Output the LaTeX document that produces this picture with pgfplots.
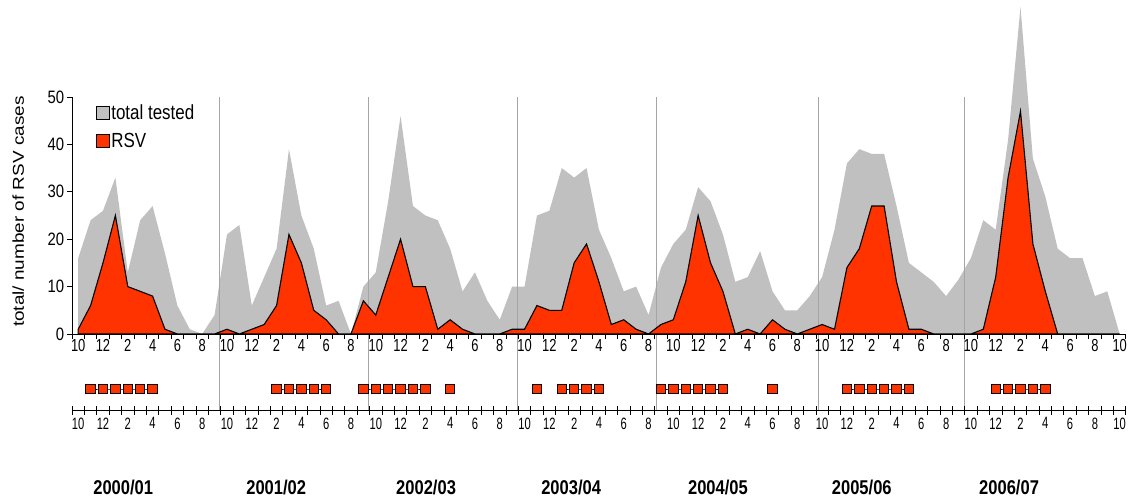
\documentclass[border=0pt]{standalone}
\usepackage{fontspec}
\setmainfont{Liberation Sans}
\usepackage{graphicx}
\usepackage{pgfplots}
\usepackage{pgfplotstable}
\pgfplotsset{compat=1.18}
\definecolor{tgrey}{RGB}{192,192,192}
\definecolor{rsvred}{RGB}{255,51,0}
\definecolor{vline}{RGB}{165,165,165}
\newcommand\tl[1]{\scalebox{0.74}[1]{\fontsize{17.5}{17.5}\selectfont #1}}
\newcommand\bl[1]{\scalebox{0.68}[1]{\fontsize{16.5}{16.5}\selectfont #1}}

\pgfplotstableread{
m tot rsv
0 16 1
1 24 6
2 26 15
3 33 25
4 13 10
5 24 9
6 27 8
7 17 1
8 6 0
9 1 0
10 0 0
11 4 0
12 21 1
13 23 0
14 6 1
15 12 2
16 18 6
17 39 21
18 25 15
19 18 5
20 6 3
21 7 0
22 0 0
23 10 7
24 13 4
25 28 12
26 46 20
27 27 10
28 25 10
29 24 1
30 18 3
31 9 1
32 13 0
33 7 0
34 3 0
35 10 1
36 10 1
37 25 6
38 26 5
39 35 5
40 33 15
41 35 19
42 22 11
43 16 2
44 9 3
45 10 1
46 4 0
47 14 2
48 19 3
49 22 11
50 31 25
51 28 15
52 21 9
53 11 0
54 12 1
55 17.5 0
56 9 3
57 5 1
58 5 0
59 8 1
60 12 2
61 22 1
62 36 14
63 39 18
64 38 27
65 38 27
66 27 11
67 15 1
68 13 1
69 11 0
70 8 0
71 11.5 0
72 16 0
73 24 1
74 22 12
75 41 33
76 69 47
77 37 19
78 29 9
79 18 0
80 16 0
81 16 0
82 8 0
83 9 0
84 0 0
}\rsvdata

\begin{document}
\begin{tikzpicture}
\useasboundingbox (-72bp,-165bp) rectangle (1058bp,334bp);
\begin{axis}[
  scale only axis, width=1054bp, height=237bp,
  xmin=-0.5, xmax=84.5, ymin=0, ymax=50,
  clip=false, axis on top,
  axis x line*=bottom, axis y line*=left,
  axis line style={black, line width=0.8bp},
  tick align=outside, major tick length=5bp,
  tick style={black, line width=0.8bp},
  xtick={-0.5,0.5,...,84.5}, xticklabels={},
  extra x ticks={0,2,...,84},
  extra x tick labels={\tl{10},\tl{12},\tl{2},\tl{4},\tl{6},\tl{8},\tl{10},\tl{12},\tl{2},\tl{4},\tl{6},\tl{8},\tl{10},\tl{12},\tl{2},\tl{4},\tl{6},\tl{8},\tl{10},\tl{12},\tl{2},\tl{4},\tl{6},\tl{8},\tl{10},\tl{12},\tl{2},\tl{4},\tl{6},\tl{8},\tl{10},\tl{12},\tl{2},\tl{4},\tl{6},\tl{8},\tl{10},\tl{12},\tl{2},\tl{4},\tl{6},\tl{8},\tl{10}},
  extra x tick style={major tick length=0pt},
  xticklabel style={yshift=-2bp},
  ytick={0,10,...,50},
  /pgf/number format/assume math mode=true,
  yticklabel style={font=\fontsize{18}{18}\selectfont, xscale=0.83},
  legend style={draw=none, fill=none, at={(axis cs:1.4,48.7)}, anchor=north west,
    font=\fontsize{20.5}{20.5}\selectfont, row sep=9bp, inner sep=0pt, nodes={inner sep=1.5bp}},
  legend cell align=left,
  legend image code/.code={\filldraw[#1] (0bp,-6.5bp) rectangle (13bp,6.5bp);},
]
\addplot[fill=tgrey, draw=none] table[x=m, y=tot] {\rsvdata} \closedcycle;
\addlegendentry{\scalebox{0.83}[1]{total tested}}
\addplot[vline, line width=0.7bp, forget plot] coordinates {(11.37,-16.03) (11.37,50)};
\addplot[vline, line width=0.7bp, forget plot] coordinates {(23.39,-16.03) (23.39,50)};
\addplot[vline, line width=0.7bp, forget plot] coordinates {(35.4,-16.03) (35.4,50)};
\addplot[vline, line width=0.7bp, forget plot] coordinates {(46.6,-16.03) (46.6,50)};
\addplot[vline, line width=0.7bp, forget plot] coordinates {(59.68,-16.03) (59.68,50)};
\addplot[vline, line width=0.7bp, forget plot] coordinates {(71.5,-16.03) (71.5,50)};
\addplot[fill=rsvred, draw=black, line width=1.1bp] table[x=m, y=rsv] {\rsvdata} \closedcycle;
\addlegendentry{\scalebox{0.83}[1]{RSV}}
\node[rotate=90, font=\fontsize{19}{19}\selectfont] at (axis cs:-4.84,25.8) {\scalebox{1}[0.83]{total/ number of RSV cases}};
\end{axis}

\begin{axis}[
  at={(0bp,-76bp)}, anchor=south west,
  scale only axis, width=1054bp, height=21bp,
  xmin=-0.5, xmax=84.5, ymin=0, ymax=1,
  clip=false,
  axis x line*=bottom, axis y line=none,
  axis line style={black, line width=0.8bp},
  tick align=center, major tick length=9bp,
  tick style={black, line width=0.8bp},
  xtick={-0.5,0.5,...,84.5}, xticklabels={},
  extra x ticks={0,2,...,84},
  extra x tick labels={\bl{10},\bl{12},\bl{2},\bl{4},\bl{6},\bl{8},\bl{10},\bl{12},\bl{2},\bl{4},\bl{6},\bl{8},\bl{10},\bl{12},\bl{2},\bl{4},\bl{6},\bl{8},\bl{10},\bl{12},\bl{2},\bl{4},\bl{6},\bl{8},\bl{10},\bl{12},\bl{2},\bl{4},\bl{6},\bl{8},\bl{10},\bl{12},\bl{2},\bl{4},\bl{6},\bl{8},\bl{10},\bl{12},\bl{2},\bl{4},\bl{6},\bl{8},\bl{10}},
  extra x tick style={major tick length=0pt},
  xticklabel style={yshift=-4bp},
  unbounded coords=jump,
]
\addplot[black, line width=0.9bp, mark=square*, mark size=4.7bp,
  mark options={fill=rsvred, draw=black, line width=0.8bp}] coordinates {
  (1,1)(2,1)(3,1)(4,1)(5,1)(6,1)(7,nan)
  (16,1)(17,1)(18,1)(19,1)(20,1)(21,nan)
  (23,1)(24,1)(25,1)(26,1)(27,1)(28,1)(29,nan)
  (30,1)(31,nan)
  (37,1)(38,nan)
  (39,1)(40,1)(41,1)(42,1)(43,nan)
  (47,1)(48,1)(49,1)(50,1)(51,1)(52,1)(53,nan)
  (56,1)(57,nan)
  (62,1)(63,1)(64,1)(65,1)(66,1)(67,1)(68,nan)
  (74,1)(75,1)(76,1)(77,1)(78,1)
};
\node[font=\bfseries\fontsize{20}{20}\selectfont] at (axis cs:3.63,-3.71) {\scalebox{0.83}[1]{2000/01}};
\node[font=\bfseries\fontsize{20}{20}\selectfont] at (axis cs:15.97,-3.71) {\scalebox{0.83}[1]{2001/02}};
\node[font=\bfseries\fontsize{20}{20}\selectfont] at (axis cs:28.06,-3.71) {\scalebox{0.83}[1]{2002/03}};
\node[font=\bfseries\fontsize{20}{20}\selectfont] at (axis cs:39.76,-3.71) {\scalebox{0.83}[1]{2003/04}};
\node[font=\bfseries\fontsize{20}{20}\selectfont] at (axis cs:51.6,-3.71) {\scalebox{0.83}[1]{2004/05}};
\node[font=\bfseries\fontsize{20}{20}\selectfont] at (axis cs:63.2,-3.71) {\scalebox{0.83}[1]{2005/06}};
\node[font=\bfseries\fontsize{20}{20}\selectfont] at (axis cs:75.08,-3.71) {\scalebox{0.83}[1]{2006/07}};
\end{axis}
\end{tikzpicture}
\end{document}
